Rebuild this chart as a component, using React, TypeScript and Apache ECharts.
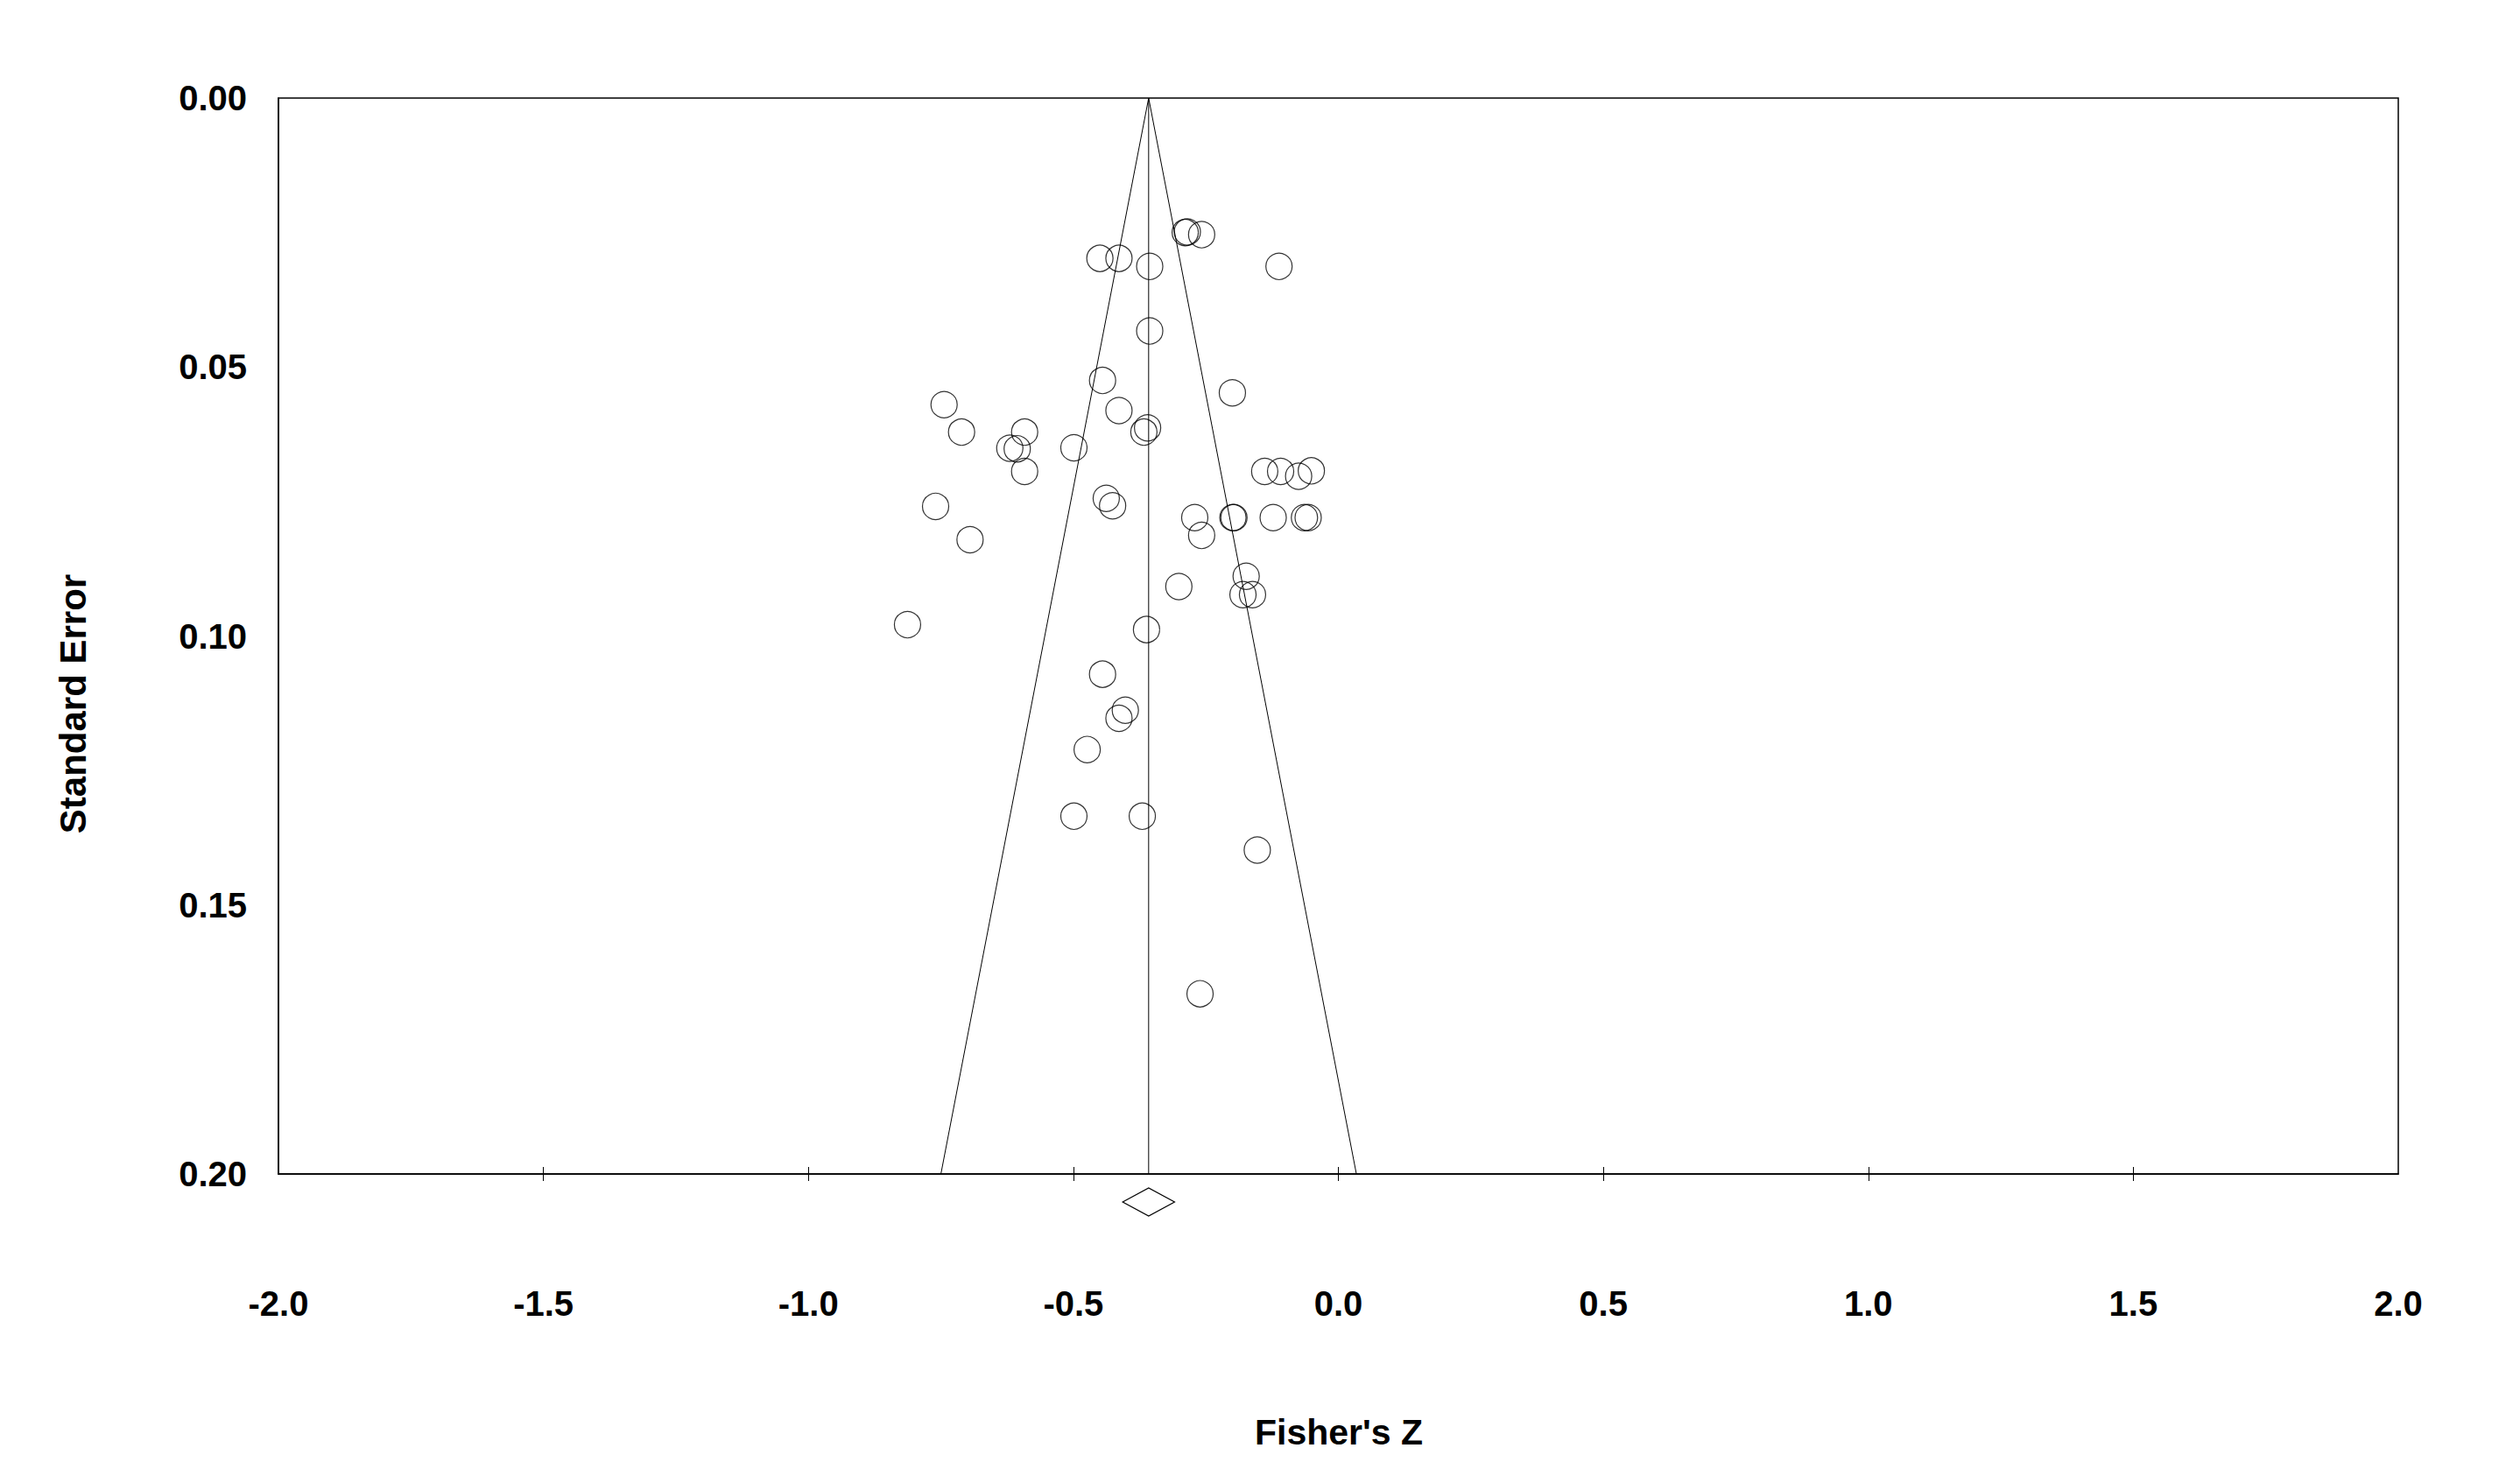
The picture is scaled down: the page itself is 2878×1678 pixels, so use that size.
import React, { useEffect, useRef } from "react";
import * as echarts from "echarts";

// Study effect sizes (Fisher's Z) and their standard errors
const fisherZ = [
  -0.289, -0.285, -0.258, -0.450, -0.414, -0.356, -0.112, -0.356, -0.445, -0.200,
  -0.744, -0.414, -0.711, -0.592, -0.360, -0.367, -0.620, -0.606, -0.499, -0.592,
  -0.139, -0.109, -0.075, -0.051, -0.438, -0.426, -0.760, -0.271, -0.199, -0.197,
  -0.123, -0.064, -0.057, -0.695, -0.258, -0.174, -0.301, -0.180, -0.162, -0.813,
  -0.362, -0.445, -0.402, -0.414, -0.474, -0.499, -0.370, -0.153, -0.261,
];
const standardError = [
  0.0250, 0.0249, 0.0254, 0.0298, 0.0298, 0.0313, 0.0313, 0.0433, 0.0525, 0.0548,
  0.0570, 0.0581, 0.0621, 0.0621, 0.0613, 0.0621, 0.0651, 0.0652, 0.0650, 0.0694,
  0.0694, 0.0694, 0.0703, 0.0693, 0.0744, 0.0758, 0.0759, 0.0780, 0.0780, 0.0780,
  0.0780, 0.0780, 0.0780, 0.0821, 0.0813, 0.0889, 0.0908, 0.0923, 0.0923, 0.0979,
  0.0988, 0.1071, 0.1138, 0.1153, 0.1211, 0.1335, 0.1335, 0.1398, 0.1665,
];

// Pooled estimate, its confidence interval and funnel limits
const pooledZ = -0.358;
const pooledLower = -0.407;
const pooledUpper = -0.309;
const diamondSE = 0.2052;
const funnelLeft = [[-0.750, 0.2], [-0.358, 0]];
const funnelRight = [[-0.358, 0], [0.034, 0.2]];
const centerLine = [[-0.358, 0], [-0.358, 0.2]];

const xTicks = [-1.5, -1.0, -0.5, 0, 0.5, 1.0, 1.5];
const FONT = "'Liberation Sans', Arial, sans-serif";

export default function App() {
  const ref = useRef<HTMLDivElement>(null);

  useEffect(() => {
    if (!ref.current) return;
    const chart = echarts.init(ref.current, null, { renderer: "svg" });
    const points = fisherZ.map((z, i) => [z, standardError[i]]);

    chart.setOption({
      animation: false,
      backgroundColor: "#fff",
      grid: {
        left: 318,
        top: 112,
        width: 2421,
        height: 1229,
        show: true,
        borderColor: "#000",
        borderWidth: 1.5,
        backgroundColor: "transparent",
      },
      xAxis: [
        {
          type: "value",
          min: -2,
          max: 2,
          interval: 0.5,
          position: "bottom",
          axisLine: { show: true, onZero: false, lineStyle: { color: "#000", width: 1.5 } },
          axisTick: {
            show: true,
            customValues: xTicks,
            length: 8,
            lineStyle: { color: "#000", width: 1 },
          },
          splitLine: { show: false },
          axisLabel: {
            margin: 128,
            color: "#000",
            fontFamily: FONT,
            fontWeight: "bold",
            fontSize: 40,
            formatter: (v: number) => v.toFixed(1),
          },
        },
        {
          type: "value",
          min: -2,
          max: 2,
          interval: 0.5,
          position: "bottom",
          axisLine: { show: false, onZero: false },
          axisTick: {
            show: true,
            inside: true,
            customValues: xTicks,
            length: 8,
            lineStyle: { color: "#000", width: 1 },
          },
          splitLine: { show: false },
          axisLabel: { show: false },
        },
      ],
      yAxis: {
        type: "value",
        inverse: true,
        min: 0,
        max: 0.2,
        interval: 0.05,
        axisLine: { show: true, onZero: false, lineStyle: { color: "#000", width: 1.5 } },
        axisTick: { show: false },
        splitLine: { show: false },
        axisLabel: {
          margin: 36,
          color: "#000",
          fontFamily: FONT,
          fontWeight: "bold",
          fontSize: 40,
          formatter: (v: number) => v.toFixed(2),
        },
      },
      graphic: [
        {
          type: "text",
          x: 83,
          y: 804,
          rotation: Math.PI / 2,
          style: {
            text: "Standard Error",
            fill: "#000",
            font: `bold 42px ${FONT}`,
            align: "center",
            verticalAlign: "middle",
          },
        },
        {
          type: "text",
          x: 1529,
          y: 1636,
          style: {
            text: "Fisher's Z",
            fill: "#000",
            font: `bold 41px ${FONT}`,
            align: "center",
            verticalAlign: "middle",
          },
        },
      ],
      series: [
        {
          type: "line",
          data: funnelLeft,
          symbol: "none",
          lineStyle: { color: "#000", width: 1 },
          silent: true,
        },
        {
          type: "line",
          data: funnelRight,
          symbol: "none",
          lineStyle: { color: "#000", width: 1 },
          silent: true,
        },
        {
          type: "line",
          data: centerLine,
          symbol: "none",
          lineStyle: { color: "#000", width: 1 },
          silent: true,
        },
        {
          type: "scatter",
          data: points,
          symbol: "circle",
          symbolSize: 30,
          itemStyle: { color: "transparent", borderColor: "#000", borderWidth: 1.2 },
        },
        {
          type: "custom",
          clip: false,
          data: [[pooledLower, pooledZ, pooledUpper, diamondSE]],
          renderItem: (params: any, api: any) => {
            const l = api.coord([api.value(0), api.value(3)]);
            const m = api.coord([api.value(1), api.value(3)]);
            const u = api.coord([api.value(2), api.value(3)]);
            const h = 16;
            return {
              type: "polygon",
              shape: {
                points: [
                  [l[0], l[1]],
                  [m[0], m[1] - h],
                  [u[0], u[1]],
                  [m[0], m[1] + h],
                ],
              },
              style: { fill: "#fff", stroke: "#000", lineWidth: 1.2 },
            };
          },
        },
      ],
    });

    return () => chart.dispose();
  }, []);

  return (
    <div
      ref={ref}
      style={{ position: "fixed", left: 0, top: 0, width: 2878, height: 1678, background: "#fff" }}
    />
  );
}
